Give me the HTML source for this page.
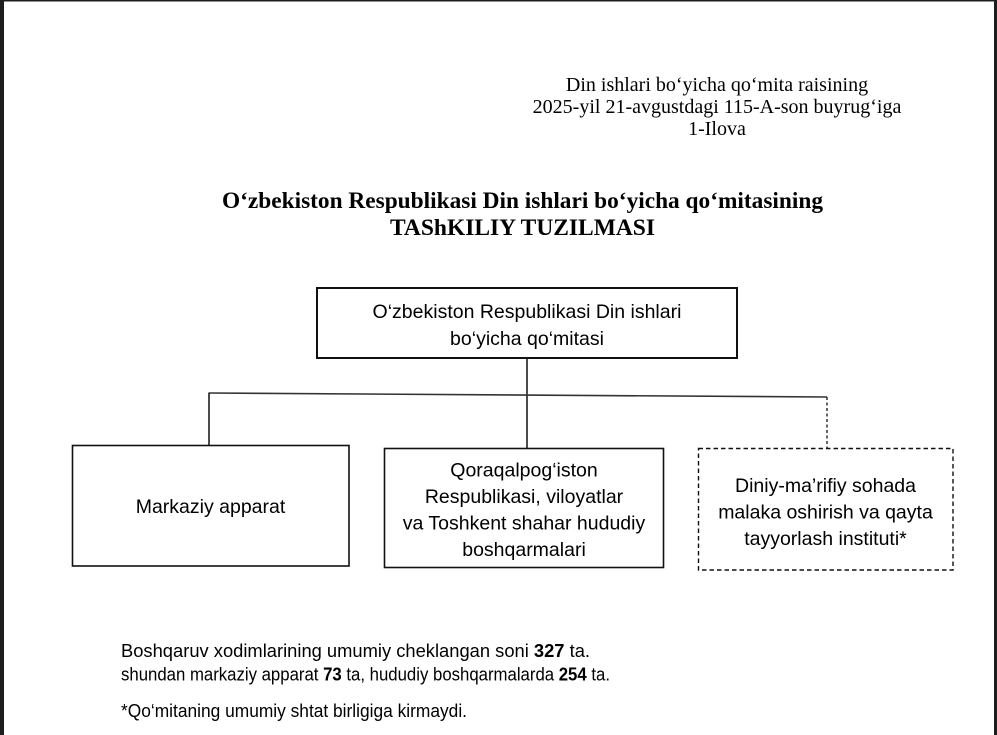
<!DOCTYPE html>
<html>
<head>
<meta charset="utf-8">
<style>
  html, body { margin: 0; padding: 0; background: #ffffff; }
  body { width: 997px; height: 735px; overflow: hidden; position: relative; }
  svg { position: absolute; left: 0; top: 0; }
  .serif { font-family: "Liberation Serif", "Times New Roman", serif; fill: #000; }
  .sans { font-family: "Liberation Sans", Arial, sans-serif; fill: #000; }
</style>
</head>
<body>
<svg width="997" height="735" viewBox="0 0 997 735" xmlns="http://www.w3.org/2000/svg">
  <rect x="0" y="0" width="997" height="735" fill="#ffffff"/>
  <!-- dark frame edges -->
  <rect x="0" y="0" width="4" height="735" fill="#1e1e1e"/>
  <rect x="0" y="0" width="997" height="1.5" fill="#1e1e1e"/>
  <rect x="994" y="0" width="3" height="735" fill="#1e1e1e"/>

  <!-- header (right) -->
  <g class="serif" font-size="20" text-anchor="middle">
    <text x="717" y="91">Din ishlari bo‘yicha qo‘mita raisining</text>
    <text x="717" y="113">2025-yil 21-avgustdagi 115-A-son buyrug‘iga</text>
    <text x="717" y="135">1-Ilova</text>
  </g>

  <!-- title -->
  <g class="serif" font-size="23" font-weight="bold" text-anchor="middle">
    <text x="522.5" y="208" textLength="601" lengthAdjust="spacingAndGlyphs">O‘zbekiston Respublikasi Din ishlari bo‘yicha qo‘mitasining</text>
    <text x="522.5" y="235" textLength="265" lengthAdjust="spacingAndGlyphs">TAShKILIY TUZILMASI</text>
  </g>

  <!-- connectors -->
  <g stroke="#111" fill="none">
    <line x1="527" y1="358" x2="527" y2="448" stroke-width="1.5"/>
    <line x1="208.5" y1="393" x2="827" y2="397" stroke-width="1.6" stroke="#333"/>
    <line x1="209" y1="393" x2="209" y2="445" stroke-width="1.5"/>
    <line x1="827" y1="397" x2="827" y2="448" stroke-width="1.3" stroke-dasharray="3,2.5"/>
  </g>

  <!-- boxes -->
  <g fill="none" stroke="#111">
    <rect x="317" y="288" width="420" height="70" stroke-width="2"/>
    <rect x="72.5" y="445.5" width="276.5" height="120.5" stroke-width="1.6"/>
    <rect x="384.5" y="448.5" width="279" height="119" stroke-width="1.6"/>
    <rect x="698.5" y="448.5" width="254.5" height="121.5" stroke-width="1.4" stroke-dasharray="4.5,3"/>
  </g>

  <!-- box text -->
  <g class="sans" font-size="19.5" text-anchor="middle">
    <text x="527" y="318">O‘zbekiston Respublikasi Din ishlari</text>
    <text x="527" y="345">bo‘yicha qo‘mitasi</text>

    <text x="210.5" y="513">Markaziy apparat</text>

    <text x="524" y="476.5">Qoraqalpog‘iston</text>
    <text x="524" y="503">Respublikasi, viloyatlar</text>
    <text x="524" y="529.5">va Toshkent shahar hududiy</text>
    <text x="524" y="556">boshqarmalari</text>

    <text x="825.5" y="492">Diniy-ma’rifiy sohada</text>
    <text x="825.5" y="518.5">malaka oshirish va qayta</text>
    <text x="825.5" y="545">tayyorlash instituti*</text>
  </g>

  <!-- footer -->
  <g class="sans" font-size="18.5">
    <text x="121" y="657" textLength="469" lengthAdjust="spacingAndGlyphs">Boshqaruv xodimlarining umumiy cheklangan soni <tspan font-weight="bold">327</tspan> ta.</text>
    <text x="121" y="680.5" textLength="489" lengthAdjust="spacingAndGlyphs">shundan markaziy apparat <tspan font-weight="bold">73</tspan> ta, hududiy boshqarmalarda <tspan font-weight="bold">254</tspan> ta.</text>
    <text x="121" y="717" textLength="346" lengthAdjust="spacingAndGlyphs">*Qo‘mitaning umumiy shtat birligiga kirmaydi.</text>
  </g>
</svg>
</body>
</html>
